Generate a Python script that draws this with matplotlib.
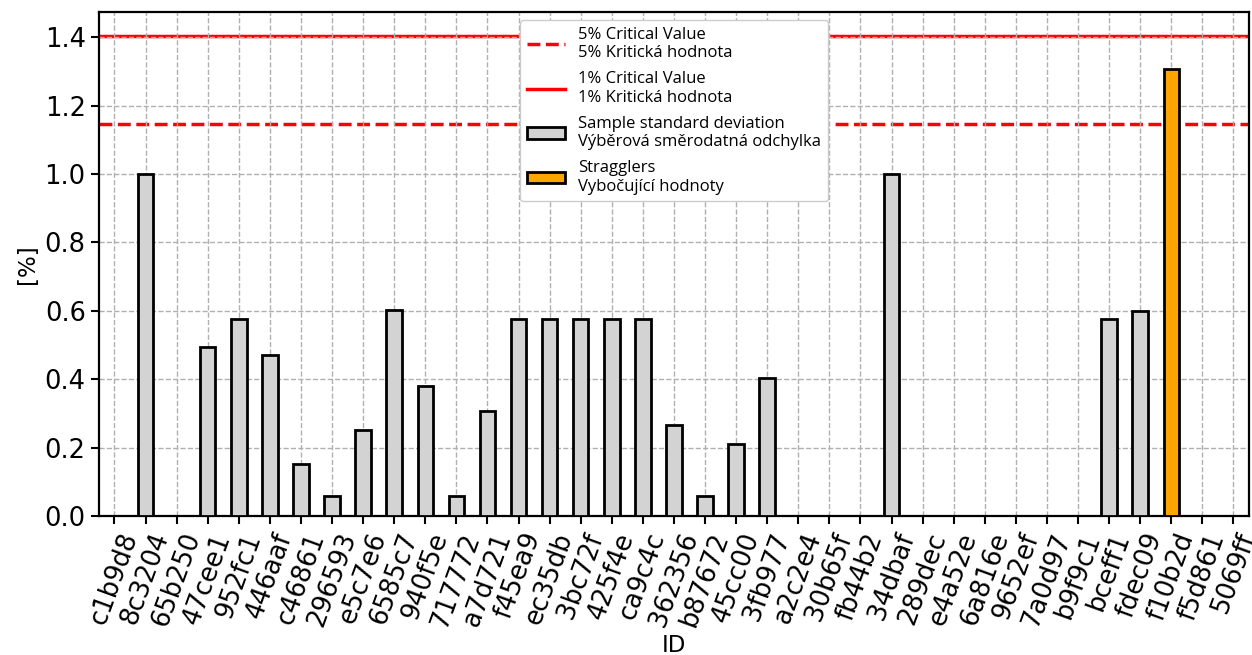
import matplotlib
matplotlib.use("Agg")
import matplotlib.pyplot as plt
from matplotlib.patches import Patch
from matplotlib.lines import Line2D

plt.rcParams['font.family'] = ['DejaVu Sans']

# IDs and sample standard deviations [%]
ids = ["c1b9d8", "8c3204", "65b250", "47cee1", "952fc1", "446aaf", "c46861",
       "296593", "e5c7e6", "6585c7", "940f5e", "717772", "a7d721", "f45ea9",
       "ec35db", "3bc72f", "425f4e", "ca9c4c", "362356", "b87672", "45cc00",
       "3fb977", "a2c2e4", "30b65f", "fb44b2", "34dbaf", "289dec", "e4a52e",
       "6a816e", "9652ef", "7a0d97", "b9f9c1", "bceff1", "fdec09", "f10b2d",
       "f5d861", "5069ff"]
std_values = [0.0, 1.0, 0.0, 0.493, 0.577, 0.472, 0.153,
              0.058, 0.252, 0.603, 0.379, 0.058, 0.306, 0.577,
              0.577, 0.577, 0.577, 0.577, 0.265, 0.058, 0.21,
              0.404, 0.0, 0.0, 0.0, 1.0, 0.0, 0.0,
              0.0, 0.0, 0.0, 0.0, 0.577, 0.6, 1.307,
              0.0, 0.0]
stragglers = ["f10b2d"]

crit_5 = 1.148
crit_1 = 1.404

fig, ax = plt.subplots(figsize=(12.52, 6.55), dpi=100)
fig.subplots_adjust(left=0.079, right=0.9976, top=0.9817, bottom=0.2122)

x = list(range(len(ids)))
colors = ["orange" if i in stragglers else "lightgray" for i in ids]
ax.bar(x, std_values, width=0.5, color=colors, edgecolor="black",
       linewidth=2, zorder=3)

ax.axhline(crit_5, color="red", linestyle="--", linewidth=2.5, zorder=1)
ax.axhline(crit_1, color="red", linestyle="-", linewidth=2.5, zorder=1)

ax.set_xlim(-0.5, len(ids) - 0.5)
ax.set_ylim(0, crit_1 * 1.05)
ax.set_xticks(x)
ax.set_xticklabels(ids, rotation=70, fontsize=18.5)
ax.tick_params(axis="y", labelsize=18.5)
ax.tick_params(length=6, width=1.5)
ax.set_xlabel("ID", fontsize=16.5, labelpad=2)
ax.set_ylabel("[%]", fontsize=16.5)
ax.grid(True, linestyle="--", color="#b0b0b0", linewidth=1, zorder=1.5)
for s in ax.spines.values():
    s.set_linewidth(1.6)

handles = [
    Line2D([], [], color="red", linestyle="--", linewidth=2.5),
    Line2D([], [], color="red", linestyle="-", linewidth=2.5),
    Patch(facecolor="lightgray", edgecolor="black", linewidth=2),
    Patch(facecolor="orange", edgecolor="black", linewidth=2),
]
labels = [
    "5% Critical Value\n5% Kritická hodnota",
    "1% Critical Value\n1% Kritická hodnota",
    "Sample standard deviation\nVýběrová směrodatná odchylka",
    "Stragglers\nVybočující hodnoty",
]
ax.legend(handles, labels, loc="upper center", prop={"family": "Open Sans", "size": 12},
          framealpha=1, borderaxespad=0.5, handlelength=2.3, labelspacing=0.6)

plt.savefig("out.png", dpi=100)
